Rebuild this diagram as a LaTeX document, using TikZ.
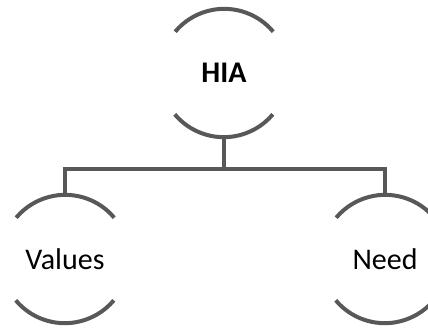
\documentclass[tikz,border=0pt]{standalone}
\usepackage{fontspec}
\setmainfont{Carlito}
\usetikzlibrary{calc}

\definecolor{ringgray}{HTML}{58585A}

\begin{document}
\begin{tikzpicture}[x=0.75pt, y=-0.75pt,
        ring/.style={circle, minimum size=96pt, inner sep=0pt, font=\fontsize{22.5}{27}\selectfont},
        wire/.style={line width=3pt, ringgray}]
        \clip (0, 0) rectangle (428, 330);

        \node[ring] (hia) at (224, 73) {\textbf{HIA}};
        \node[ring] (val) at (65, 259) {Values};
        \node[ring] (need) at (385, 259) {Need};

        % open rings, top and bottom arcs only
        \foreach \n in {hia, val, need} {
            \draw[wire] (\n.40) arc[start angle=40, end angle=140, radius=48pt];
            \draw[wire] (\n.220) arc[start angle=220, end angle=320, radius=48pt];
        }

        \coordinate (bus) at (224, 169);
        \draw[wire] (hia.south) -- (bus);
        \draw[wire] (val.north) |- (bus) -| (need.north);

    \end{tikzpicture}
\end{document}
